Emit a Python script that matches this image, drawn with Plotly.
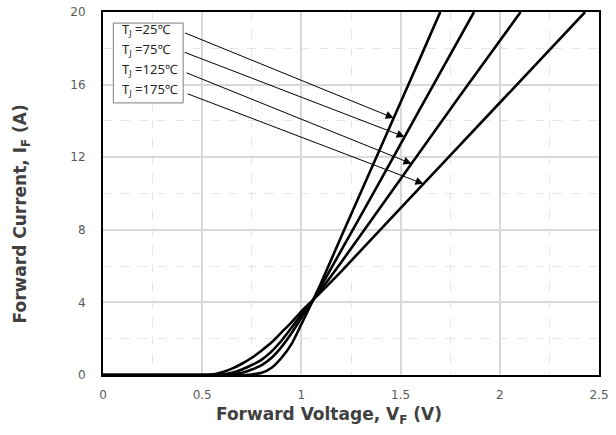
import numpy as np
import plotly.graph_objects as go

# ---- data ----
labels = ["T<sub>J</sub> =25℃", "T<sub>J</sub> =75℃", "T<sub>J</sub> =125℃", "T<sub>J</sub> =175℃"]

vf_25 = [0.0, 0.5, 0.72, 0.75, 0.8, 0.85, 0.9, 0.95, 1.0, 1.06, 1.1, 1.2, 1.4, 1.6, 1.70]
if_25 = [0.0, 0.0, 0.0, 0.03, 0.12, 0.4, 0.95, 1.7, 2.8, 4.15, 5.1, 7.6, 12.55, 17.5, 20.0]

vf_75 = [0.0, 0.5, 0.65, 0.7, 0.75, 0.8, 0.85, 0.9, 0.95, 1.0, 1.06, 1.2, 1.4, 1.6, 1.87]
if_75 = [0.0, 0.0, 0.03, 0.12, 0.3, 0.55, 0.95, 1.55, 2.3, 3.15, 4.15, 6.85, 10.75, 14.7, 20.0]

vf_125 = [0.0, 0.5, 0.6, 0.65, 0.7, 0.75, 0.8, 0.85, 0.9, 0.95, 1.0, 1.06, 1.2, 1.5, 1.8, 2.105]
if_125 = [0.0, 0.0, 0.03, 0.12, 0.3, 0.55, 0.85, 1.3, 1.9, 2.6, 3.35, 4.15, 6.2, 10.8, 15.4, 20.0]

vf_175 = [0.0, 0.5, 0.55, 0.6, 0.65, 0.7, 0.75, 0.8, 0.85, 0.9, 0.95, 1.0, 1.06, 1.2, 1.5, 2.0, 2.43]
if_175 = [0.0, 0.0, 0.02, 0.15, 0.35, 0.62, 0.95, 1.35, 1.8, 2.35, 2.9, 3.5, 4.15, 5.7, 9.2, 15.0, 20.0]

# legend label anchor points (data coords) and arrow target voltages
label_v = [0.406, 0.404, 0.414, 0.42]
label_i = [18.88, 17.81, 16.68, 15.52]
arrow_v = [1.465, 1.52, 1.555, 1.615]

x_ticks = [0, 0.5, 1, 1.5, 2, 2.5]
x_tick_text = ["0", "0.5", "1", "1.5", "2", "2.5"]
y_ticks = [0, 4, 8, 12, 16, 20]

x_title = "Forward Voltage, V<sub>F</sub> (V)"
y_title = "Forward Current, I<sub>F</sub> (A)"

series = [(vf_25, if_25), (vf_75, if_75), (vf_125, if_125), (vf_175, if_175)]

fig = go.Figure()
for (v, i), name in zip(series, labels):
    fig.add_trace(go.Scatter(x=v, y=i, mode="lines", name=name,
                             line=dict(color="black", width=2.6, shape="spline", smoothing=0.6),
                             showlegend=False, hoverinfo="skip"))

# legend box
fig.add_shape(type="rect", xref="x", yref="y", x0=0.052, x1=0.404, y0=14.99, y1=19.39,
              line=dict(color="#7f7f7f", width=1), fillcolor="white", layer="above")

text_y = [19.0, 17.9, 16.8, 15.7]
for k, name in enumerate(labels):
    fig.add_annotation(x=0.085, y=text_y[k], xref="x", yref="y", text=name, showarrow=False,
                       xanchor="left", yanchor="middle",
                       font=dict(family="Noto Sans, DejaVu Sans", size=13, color="#262626"))
    v, i = series[k]
    tip_i = float(np.interp(arrow_v[k], v, i))
    fig.add_annotation(x=arrow_v[k], y=tip_i, xref="x", yref="y",
                       ax=label_v[k], ay=label_i[k], axref="x", ayref="y",
                       text="", showarrow=True, arrowhead=2, arrowsize=1.6, arrowwidth=1,
                       arrowcolor="black", standoff=0)

title_font = dict(size=17, color="#404040", family="DejaVu Sans", weight="bold")
fig.add_annotation(xref="paper", yref="paper", x=0.4557, y=-0.111, text=x_title,
                   showarrow=False, xanchor="center", yanchor="middle", font=title_font)
fig.add_annotation(xref="paper", yref="paper", x=-0.1645, y=0.4435, text=y_title,
                   showarrow=False, xanchor="center", yanchor="middle", textangle=-90,
                   font=title_font)

grid_c = "#d9d9d9"
tick_font = dict(size=12, color="#595959", family="DejaVu Sans")
fig.update_layout(
    width=616, height=435,
    margin=dict(l=103, r=17, t=12, b=60, autoexpand=False),
    paper_bgcolor="white", plot_bgcolor="white",
    font=dict(family="DejaVu Sans", color="#595959"),
    xaxis=dict(range=[0, 2.5], tickvals=x_ticks, ticktext=x_tick_text, automargin=False,
               showgrid=True, gridcolor=grid_c, gridwidth=1.5,
               minor=dict(dtick=0.25, showgrid=True, gridcolor="#e6e6e6", griddash="dash", gridwidth=1),
               showline=True, linecolor="black", linewidth=2, mirror=True,
               ticks="", ticklabelstandoff=8, zeroline=False, tickfont=tick_font),
    yaxis=dict(range=[0, 20], tickvals=y_ticks, automargin=False,
               showgrid=True, gridcolor=grid_c, gridwidth=1.5,
               minor=dict(dtick=2, showgrid=True, gridcolor="#e6e6e6", griddash="dash", gridwidth=1),
               showline=True, linecolor="black", linewidth=2, mirror=True,
               ticks="", ticklabelstandoff=13, zeroline=False, tickfont=tick_font),
)

fig.write_html("out.html", config={"displayModeBar": False},
               post_script="document.body.style.margin='0';document.body.style.padding='0';")
